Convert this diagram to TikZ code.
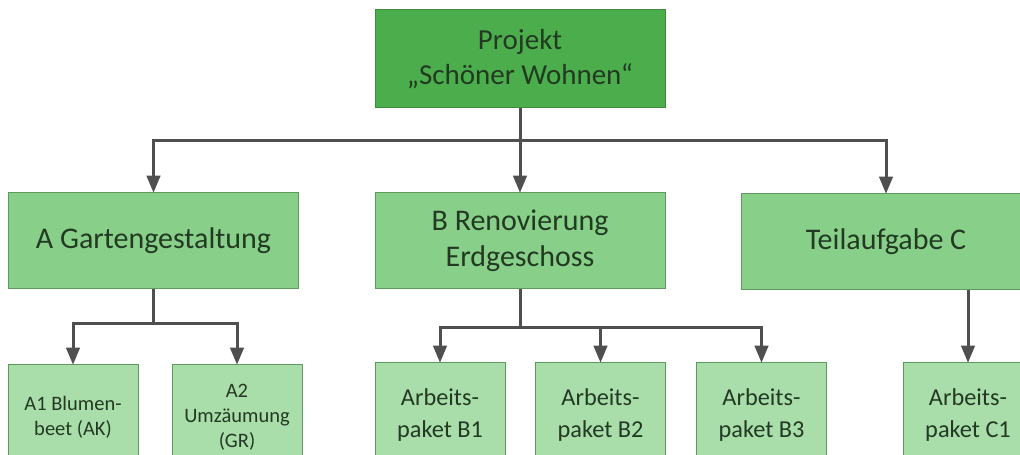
\documentclass[tikz,border=0pt]{standalone}
\usepackage{fontspec}
\setmainfont{Carlito}
\usepackage{tikz}
\usetikzlibrary{arrows}
\usetikzlibrary{positioning}
\definecolor{topgreen}{HTML}{4CAD4C}
\definecolor{topline}{HTML}{3E8A3E}
\definecolor{midgreen}{HTML}{88CF8A}
\definecolor{lowgreen}{HTML}{A9DDAA}
\definecolor{boxline}{HTML}{5E9A5E}
\definecolor{linegray}{HTML}{4F4F4F}
\definecolor{textgreen}{HTML}{223A22}

\begin{document}
\begin{tikzpicture}[line join=miter,>=triangle 45,x=1pt,y=1pt,
  projbox/.style={draw=topline,line width=1pt,fill=topgreen,text=textgreen,
    minimum width=290pt,minimum height=98pt,align=center,
    font=\fontsize{29}{35}\selectfont},
  taskbox/.style={draw=boxline,line width=1pt,fill=midgreen,text=textgreen,
    minimum width=290pt,minimum height=96pt,align=center,
    font=\fontsize{30}{36}\selectfont},
  packbox/.style={draw=boxline,line width=1pt,fill=lowgreen,text=textgreen,
    minimum width=130pt,minimum height=104pt,align=center,
    font=\fontsize{24.3}{32}\selectfont},
  smallpack/.style={packbox,font=\fontsize{20.5}{25}\selectfont},
  conn/.style={draw=linegray,line width=3pt}]
%  \draw[step=10pt,gray,very thin] (0,0) grid (1020,455);

\clip (0,0) rectangle (1020,455);

\node[projbox] (proj) at (520,396) {Projekt\\„Schöner Wohnen“};

\node[taskbox] (ga) at (153.5,214) {A Gartengestaltung};
\node[taskbox] (re) at (520,214) {B Renovierung\\Erdgeschoss};
\node[taskbox] (tc) at (886,213) {Teilaufgabe C};

\node[smallpack] (a1) at (73,38) {A1 Blumen-\\beet (AK)};
\node[smallpack] (a2) at (237,38) {A2\\Umzäumung\\(GR)};
\node[packbox] (b1) at (440,40) {Arbeits-\\paket B1};
\node[packbox] (b2) at (600.5,40) {Arbeits-\\paket B2};
\node[packbox] (b3) at (761.5,40) {Arbeits-\\paket B3};
\node[packbox] (c1) at (968,40) {Arbeits-\\paket C1};

\coordinate (bus0) at (520,314);
\coordinate (busA) at (153.5,131);
\coordinate (busB) at (520,127);
\coordinate (stemC) at (c1.north |- tc.south);

\path[conn] (proj.south) -- (bus0);
\path[conn,->] (bus0) -| (ga.north);
\path[conn,->] (bus0) -- (re.north);
\path[conn,->] (bus0) -| (tc.north);

\path[conn] (ga.south) -- (busA);
\path[conn,->] (busA) -| (a1.north);
\path[conn,->] (busA) -| (a2.north);

\path[conn] (re.south) -- (busB);
\path[conn,->] (busB) -| (b1.north);
\path[conn,->] (busB) -| (b2.north);
\path[conn,->] (busB) -| (b3.north);

\path[conn,->] (stemC) -- (c1.north);

\end{tikzpicture}
\end{document}
